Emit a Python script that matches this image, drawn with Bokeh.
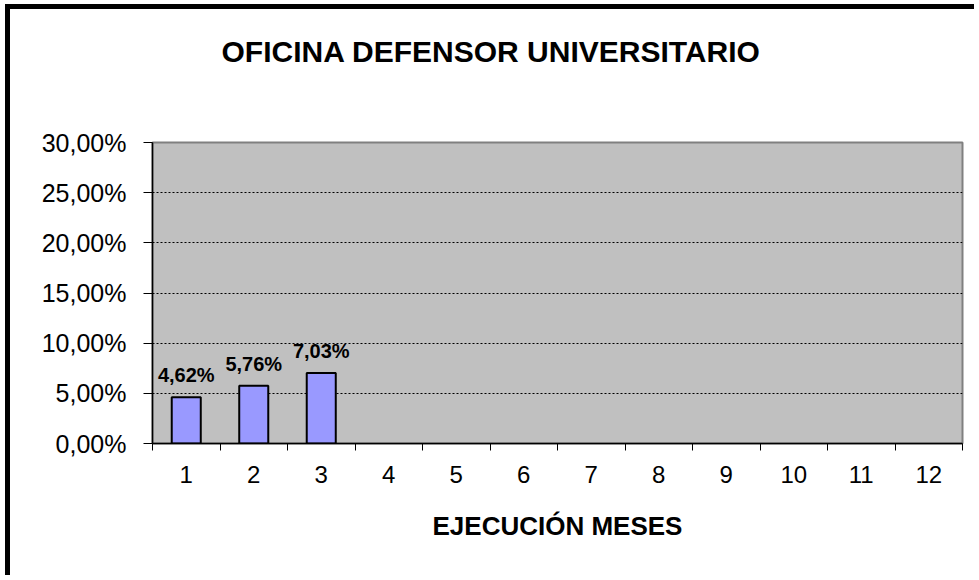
from bokeh.plotting import figure
from bokeh.models import ColumnDataSource, FixedTicker, LabelSet, Title
from bokeh.core.properties import value
from bokeh.embed import file_html
from bokeh.resources import INLINE

# ---- data ----
months = [1, 2, 3, 4, 5, 6, 7, 8, 9, 10, 11, 12]
month_labels = ["1", "2", "3", "4", "5", "6", "7", "8", "9", "10", "11", "12"]
exec_months = [1, 2, 3]
exec_values = [0.0462, 0.0576, 0.0703]
y_ticks = [0.0, 0.05, 0.10, 0.15, 0.20, 0.25, 0.30]
y_tick_labels = ["0,00%", "5,00%", "10,00%", "15,00%", "20,00%", "25,00%", "30,00%"]
title_text = "OFICINA DEFENSOR UNIVERSITARIO"
x_title = "EJECUCIÓN MESES"

FONT = "Liberation Sans"

bar_labels = [("%.2f" % (v * 100)).replace(".", ",") + "%" for v in exec_values]
src = ColumnDataSource(dict(x=exec_months, top=exec_values, label=bar_labels))

W, H = 969, 571
p = figure(width=W, height=H, output_backend="svg", toolbar_location=None,
           x_range=(0.5, 12.5), y_range=(0, 0.30), title=title_text,
           min_border_left=142, min_border_right=17, min_border_top=132, min_border_bottom=137)
p.styles = {"border-left": "5px solid black", "border-top": "5px solid black",
            "margin-left": "5px", "margin-top": "4px"}
p.background_fill_color = "#C0C0C0"
p.border_fill_color = "white"
p.outline_line_color = "#808080"
p.outline_line_width = 2

# title
p.title.align = "left"
p.title.vertical_align = "top"
p.title.offset = 69
p.title.standoff = 50
p.title.text_font = FONT
p.title.text_font_size = "30px"
p.title.text_font_style = "bold"
p.title.text_color = "black"

# empty spacer between the title and the plot area
p.add_layout(Title(text=" ", text_font_size="10px", standoff=35), "above")

p.vbar(x="x", top="top", width=0.43, source=src, fill_color="#9999FF",
       line_color="black", line_width=2)

# x axis
p.xaxis.ticker = FixedTicker(ticks=months, minor_ticks=[m - 0.5 for m in months] + [months[-1] + 0.5])
p.xaxis.major_label_overrides = {m: l for m, l in zip(months, month_labels)}
p.xaxis.major_tick_out = 0
p.xaxis.major_tick_in = 0
p.xaxis.minor_tick_out = 7
p.xaxis.minor_tick_in = 0
p.xaxis.minor_tick_line_color = "black"
p.xaxis.axis_line_color = "black"
p.xaxis.axis_line_width = 1.5
p.xaxis.major_label_standoff = 15
p.xaxis.major_label_text_font = FONT
p.xaxis.major_label_text_font_size = "24px"
p.xaxis.major_label_text_color = "black"
p.xaxis.axis_label = x_title
p.xaxis.axis_label_standoff = 25
p.xaxis.axis_label_text_font = FONT
p.xaxis.axis_label_text_font_size = "26px"
p.xaxis.axis_label_text_font_style = "bold"
p.xaxis.axis_label_text_color = "black"

# y axis
p.yaxis.ticker = FixedTicker(ticks=y_ticks)
p.yaxis.major_label_overrides = {t: l for t, l in zip(y_ticks, y_tick_labels)}
p.yaxis.minor_tick_line_color = None
p.yaxis.major_tick_out = 9
p.yaxis.major_tick_in = 0
p.yaxis.major_tick_line_color = "black"
p.yaxis.axis_line_color = "black"
p.yaxis.axis_line_width = 1.5
p.yaxis.major_label_standoff = 17
p.yaxis.major_label_text_font = FONT
p.yaxis.major_label_text_font_size = "25px"
p.yaxis.major_label_text_color = "black"

# grid
p.xgrid.visible = False
p.ygrid.ticker = FixedTicker(ticks=y_ticks[1:-1])
p.ygrid.grid_line_color = "black"
p.ygrid.grid_line_dash = "2 2"
p.ygrid.grid_line_width = 1

# bar value labels
labels = LabelSet(x="x", y="top", text="label", source=src, y_offset=15,
                  text_align="center", text_baseline="alphabetic",
                  text_font=value(FONT), text_font_size=value("20px"),
                  text_font_style=value("bold"), text_color=value("black"))
p.add_layout(labels)

open("out.html", "w").write(file_html(p, INLINE))
